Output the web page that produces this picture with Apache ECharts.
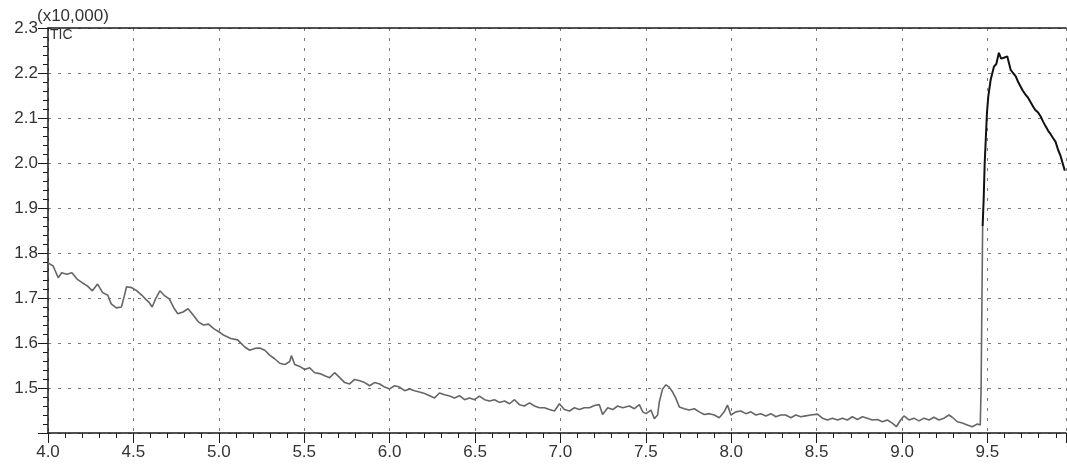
<!DOCTYPE html>
<html>
<head>
<meta charset="utf-8">
<script src="https://cdn.jsdelivr.net/npm/echarts@6/dist/echarts.min.js"></script>
<style>
  html, body { margin: 0; padding: 0; background: #ffffff; }
  #chart { width: 1067px; height: 465px; }
</style>
</head>
<body>
<div id="chart"></div>
<script>
// Total ion current trace, retention time in minutes, intensity in units of 10,000
const baseTime = [
  4.00, 4.03, 4.06, 4.08, 4.11, 4.14, 4.17, 4.20, 4.23, 4.26,
  4.29, 4.32, 4.35, 4.37, 4.40, 4.43, 4.445, 4.46, 4.49, 4.52,
  4.55, 4.57, 4.59, 4.61, 4.63, 4.655, 4.68, 4.71, 4.74, 4.76,
  4.79, 4.82, 4.85, 4.88, 4.91, 4.94, 4.97, 5.00, 5.03, 5.07,
  5.11, 5.152, 5.181, 5.211, 5.240, 5.269, 5.298, 5.327, 5.357, 5.386,
  5.415, 5.425, 5.445, 5.474, 5.503, 5.532, 5.561, 5.591, 5.620, 5.649,
  5.678, 5.708, 5.737, 5.766, 5.795, 5.825, 5.854, 5.883, 5.912, 5.942,
  5.971, 6.000, 6.029, 6.058, 6.088, 6.117, 6.146, 6.175, 6.205, 6.234,
  6.263, 6.292, 6.322, 6.351, 6.380, 6.409, 6.439, 6.468, 6.497, 6.526,
  6.556, 6.585, 6.614, 6.643, 6.673, 6.702, 6.731, 6.760, 6.789, 6.819,
  6.848, 6.877, 6.906, 6.936, 6.965, 6.994, 7.023, 7.053, 7.082, 7.111,
  7.140, 7.170, 7.199, 7.228, 7.247, 7.277, 7.306, 7.335, 7.364, 7.404,
  7.433, 7.462, 7.482, 7.501, 7.530, 7.550, 7.569, 7.579, 7.598, 7.618,
  7.637, 7.657, 7.676, 7.696, 7.725, 7.754, 7.784, 7.813, 7.842, 7.871,
  7.901, 7.930, 7.959, 7.978, 7.998, 8.027, 8.056, 8.086, 8.115, 8.144,
  8.173, 8.203, 8.232, 8.261, 8.290, 8.319, 8.349, 8.378, 8.407, 8.436,
  8.466, 8.505, 8.534, 8.563, 8.593, 8.622, 8.651, 8.680, 8.709, 8.739,
  8.768, 8.797, 8.826, 8.856, 8.885, 8.914, 8.943, 8.967, 8.992, 9.011,
  9.041, 9.070, 9.099, 9.129, 9.158, 9.187, 9.216, 9.246, 9.275, 9.294,
  9.324, 9.353, 9.382, 9.411, 9.441, 9.458, 9.463, 9.468, 9.472
];
const baseTic = [
  1.778, 1.771, 1.745, 1.756, 1.753, 1.756, 1.742, 1.734, 1.727, 1.716,
  1.731, 1.712, 1.706, 1.687, 1.678, 1.680, 1.702, 1.725, 1.723, 1.716,
  1.706, 1.698, 1.691, 1.680, 1.698, 1.716, 1.706, 1.698, 1.676, 1.665,
  1.669, 1.676, 1.662, 1.647, 1.640, 1.642, 1.632, 1.625, 1.617, 1.610,
  1.607, 1.591, 1.584, 1.588, 1.589, 1.584, 1.573, 1.565, 1.555, 1.552,
  1.559, 1.572, 1.552, 1.548, 1.541, 1.545, 1.534, 1.532, 1.527, 1.523,
  1.534, 1.523, 1.512, 1.509, 1.519, 1.516, 1.512, 1.505, 1.512, 1.509,
  1.502, 1.498, 1.505, 1.502, 1.494, 1.498, 1.494, 1.491, 1.488, 1.483,
  1.478, 1.489, 1.485, 1.482, 1.478, 1.483, 1.474, 1.478, 1.474, 1.482,
  1.474, 1.471, 1.474, 1.468, 1.471, 1.465, 1.474, 1.463, 1.460, 1.467,
  1.460, 1.456, 1.456, 1.452, 1.449, 1.465, 1.452, 1.449, 1.456, 1.452,
  1.456, 1.456, 1.461, 1.463, 1.441, 1.456, 1.452, 1.460, 1.456, 1.460,
  1.454, 1.463, 1.447, 1.443, 1.451, 1.432, 1.440, 1.469, 1.498, 1.507,
  1.502, 1.491, 1.477, 1.458, 1.454, 1.451, 1.454, 1.447, 1.441, 1.443,
  1.440, 1.434, 1.447, 1.462, 1.440, 1.447, 1.449, 1.443, 1.447, 1.440,
  1.443, 1.438, 1.443, 1.436, 1.440, 1.440, 1.434, 1.440, 1.436, 1.438,
  1.440, 1.442, 1.433, 1.429, 1.433, 1.429, 1.433, 1.429, 1.436, 1.430,
  1.436, 1.433, 1.429, 1.430, 1.425, 1.429, 1.422, 1.414, 1.429, 1.438,
  1.429, 1.433, 1.427, 1.433, 1.429, 1.435, 1.429, 1.433, 1.440, 1.435,
  1.425, 1.422, 1.418, 1.414, 1.420, 1.418, 1.500, 1.700, 1.860
];
// Large peak eluting at the end of the run
const peakTime = [
  9.472, 9.478, 9.484, 9.490, 9.497, 9.505, 9.519, 9.538, 9.552, 9.567,
  9.580, 9.596, 9.616, 9.636, 9.650, 9.665, 9.680, 9.694, 9.708, 9.723,
  9.738, 9.753, 9.768, 9.782, 9.797, 9.811, 9.826, 9.840, 9.855, 9.870,
  9.885, 9.899, 9.913, 9.928, 9.940, 9.953
];
const peakTic = [
  1.860, 1.920, 2.000, 2.050, 2.110, 2.148, 2.185, 2.214, 2.220, 2.245,
  2.232, 2.234, 2.237, 2.207, 2.200, 2.193, 2.180, 2.170, 2.160, 2.152,
  2.145, 2.135, 2.125, 2.117, 2.112, 2.104, 2.092, 2.082, 2.072, 2.064,
  2.055, 2.047, 2.030, 2.016, 2.000, 1.983
];

const xMin = 4.0, xMax = 9.96, xStep = 0.5;
const yMin = 1.4, yMax = 2.3, yStep = 0.1;
const yUnitLabel = '(x10,000)';
const traceName = 'TIC';

const zip = (a, b) => a.map((v, i) => [v, b[i]]);
const font = 'Liberation Sans, Arial, sans-serif';
const ink = '#1a1a1a';
const gridStyle = { type: [3, 7], color: '#7a7a7a', width: 1 };

const chart = echarts.init(document.getElementById('chart'), null, { renderer: 'canvas' });
chart.setOption({
  animation: false,
  backgroundColor: '#ffffff',
  grid: { left: 48, right: 1, top: 28, bottom: 32 },
  xAxis: [{
    type: 'value', min: xMin, max: xMax, interval: xStep,
    axisLine: { lineStyle: { color: ink, width: 1.5 } },
    axisTick: { length: 10, lineStyle: { color: ink } },
    minorTick: { show: true, splitNumber: 5, length: 5, lineStyle: { color: ink } },
    axisLabel: { formatter: v => v.toFixed(1), fontSize: 17, color: '#333', margin: 11,
                 fontFamily: font, showMaxLabel: false },
    splitLine: { show: true, lineStyle: gridStyle }
  }, {
    type: 'value', position: 'top', min: xMin, max: xMax,
    axisLine: { show: true, lineStyle: { color: ink, width: 1.5 } },
    axisTick: { show: false }, axisLabel: { show: false }, splitLine: { show: false }
  }],
  yAxis: {
    type: 'value', min: yMin, max: yMax, interval: yStep,
    axisLine: { show: true, lineStyle: { color: ink, width: 1.5 } },
    axisTick: { show: true, length: 10, lineStyle: { color: ink } },
    minorTick: { show: true, splitNumber: 5, length: 5, lineStyle: { color: ink } },
    axisLabel: { formatter: v => v.toFixed(1), fontSize: 17, color: '#333', margin: 10,
                 fontFamily: font, showMinLabel: false },
    splitLine: { show: true, lineStyle: gridStyle }
  },
  graphic: [
    { type: 'text', left: 37, top: 8,
      style: { text: yUnitLabel, font: '17px ' + font, fill: '#333' } },
    { type: 'text', left: 50, top: 28,
      style: { text: traceName, font: '14px ' + font, fill: '#333' } }
  ],
  series: [{
    type: 'line', data: zip(baseTime, baseTic), showSymbol: false,
    lineStyle: { color: '#666666', width: 1.6 }, z: 3
  }, {
    type: 'line', data: zip(peakTime, peakTic), showSymbol: false,
    lineStyle: { color: '#111111', width: 2 }, z: 4
  }]
});
</script>
</body>
</html>
